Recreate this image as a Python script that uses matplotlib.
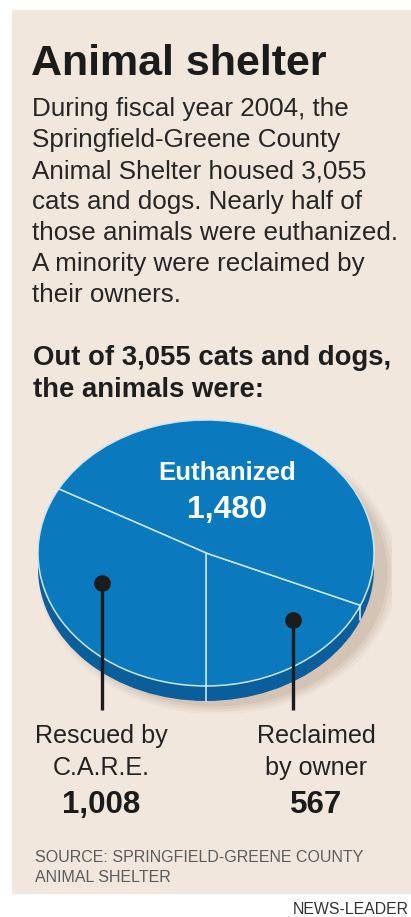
import matplotlib.pyplot as plt
from matplotlib.patches import Rectangle, Ellipse
import numpy as np

# data
categories = ['Euthanized', 'Rescued by C.A.R.E.', 'Reclaimed by owner']
counts = [1480, 1008, 567]
total = 3055

title = 'Animal shelter'
intro = ['During fiscal year 2004, the',
         'Springfield-Greene County',
         'Animal Shelter housed 3,055',
         'cats and dogs. Nearly half of',
         'those animals were euthanized.',
         'A minority were reclaimed by',
         'their owners.']
subtitle = ['Out of 3,055 cats and dogs,', 'the animals were:']
source = ['SOURCE: SPRINGFIELD-GREENE COUNTY', 'ANIMAL SHELTER']

W, H = 411, 917
BG = '#f1e7dd'
TOP = '#0a79be'
SIDE = '#0a5e9b'
SANS = ['Liberation Sans', 'DejaVu Sans']

fig = plt.figure(figsize=(W / 100, H / 100), dpi=100)
fig.patch.set_facecolor('white')

def fx(px):
    return px / W

def fy(py):
    return 1 - py / H

# beige panel (behind the axes)
fig.patches.append(Rectangle((fx(12), fy(893)), fx(399), 883 / H,
                             transform=fig.transFigure, color=BG, zorder=-5))

# headline + intro
fig.text(fx(31), fy(75), title, family=SANS, weight='bold', fontsize=31,
         color='#1b1b1b')
for i, line in enumerate(intro):
    fig.text(fx(32), fy(116 + i * 31), line, family=SANS, fontsize=18.7,
             color='#262626')
for i, line in enumerate(subtitle):
    fig.text(fx(33), fy(365 + i * 32), line, family=SANS, weight='bold',
             fontsize=19.8, color='#1e1e1e')

# pie (drawn as an ellipse by stretching the axes)
ax = fig.add_axes([fx(20), fy(730), fx(372), 330 / H])
ax.set_zorder(1)
xl, yl = (-1.107, 1.107), (-1.331, 1.150)
d = 0.113  # depth of the disc

# soft shadow to the right
for k, a in enumerate([0.08, 0.10, 0.13, 0.16]):
    s = 1.07 - k * 0.02
    ax.add_patch(Ellipse((0.07, -d - 0.03), 2 * s, 2 * s, color='#a8927e',
                         alpha=a, lw=0, zorder=0))

# side of the disc
ax.add_patch(Ellipse((0, -d), 2, 2, color=SIDE, lw=0, zorder=1))
ax.add_patch(Rectangle((-1, -d), 2, d, color=SIDE, lw=0, zorder=1))

order = [2, 0, 1]
wedges, _ = ax.pie([counts[i] for i in order], startangle=270,
                   counterclock=True, colors=[TOP] * 3,
                   wedgeprops=dict(edgecolor='#cfe6f5', linewidth=1.1))
for w in wedges:
    w.set_zorder(2)
    t = np.deg2rad(w.theta1)
    if np.sin(t) < -0.05:
        ax.plot([np.cos(t)] * 2, [np.sin(t), np.sin(t) - d], color='#dcedf8',
                lw=1.1, zorder=3)

ax.set_aspect('auto')
ax.set_xlim(*xl)
ax.set_ylim(*yl)
ax.axis('off')

# label inside the big slice
ax.text(0.125, 0.55, categories[0], family=SANS, weight='bold', fontsize=18.6,
        color='white', ha='center', va='baseline', zorder=5)
ax.text(0.125, 0.265, f'{counts[0]:,}', family=SANS, weight='bold', fontsize=23,
        color='white', ha='center', va='baseline', zorder=5)

# leader dots and lines
for x, y in [(-0.619, -0.226), (0.518, -0.504)]:
    ax.plot([x, x], [y, -1.18], color='#1c1c1c', lw=2.4, zorder=6,
            solid_capstyle='butt')
    ax.plot([x], [y], 'o', color='#1c1c1c', ms=11, zorder=7)

# outside labels
fig.text(fx(101), fy(743), 'Rescued by', family=SANS, fontsize=18.1,
         color='#222222', ha='center')
fig.text(fx(101), fy(775), 'C.A.R.E.', family=SANS, fontsize=18.1,
         color='#222222', ha='center')
fig.text(fx(101), fy(813), f'{counts[1]:,}', family=SANS, weight='bold',
         fontsize=22.5, color='#1b1b1b', ha='center')
fig.text(fx(316), fy(743), 'Reclaimed', family=SANS, fontsize=18.1,
         color='#222222', ha='center')
fig.text(fx(316), fy(775), 'by owner', family=SANS, fontsize=18.1,
         color='#222222', ha='center')
fig.text(fx(316), fy(813), f'{counts[2]:,}', family=SANS, weight='bold',
         fontsize=22.5, color='#1b1b1b', ha='center')

# source and credit
for i, line in enumerate(source):
    fig.text(fx(35), fy(862 + i * 20), line, family=SANS, fontsize=11.5,
             color='#5c5c5c')
fig.text(fx(409), fy(914), 'NEWS-LEADER', family=SANS, fontsize=11.4,
         color='#333333', ha='right')

fig.savefig('out.png', dpi=100, facecolor='white')
